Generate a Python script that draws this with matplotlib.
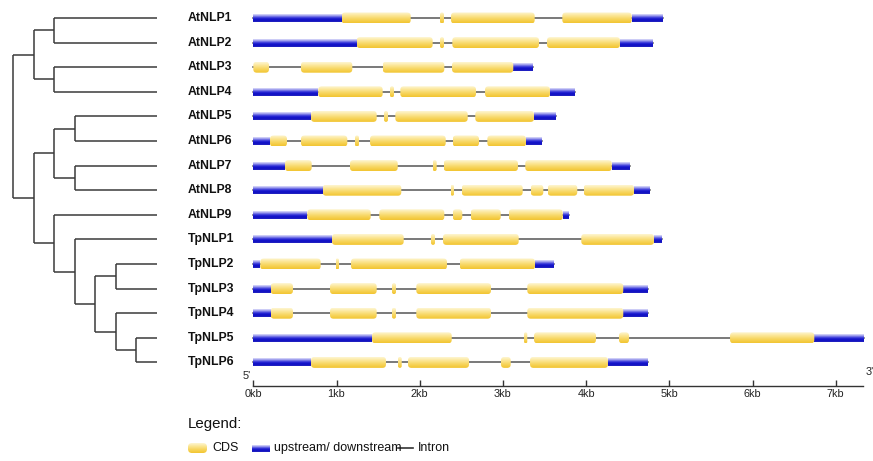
import numpy as np
import matplotlib
matplotlib.use("Agg")
import matplotlib.pyplot as plt
from matplotlib.patches import FancyBboxPatch
from matplotlib.colors import LinearSegmentedColormap
from matplotlib.lines import Line2D

# ---------------- data ----------------
gene_names = ["AtNLP1", "AtNLP2", "AtNLP3", "AtNLP4", "AtNLP5", "AtNLP6",
              "AtNLP7", "AtNLP8", "AtNLP9", "TpNLP1", "TpNLP2", "TpNLP3",
              "TpNLP4", "TpNLP5", "TpNLP6"]

# cladogram topology
tree = (((("AtNLP1", "AtNLP2"), ("AtNLP3", "AtNLP4")),
         ((("AtNLP5", "AtNLP6"), ("AtNLP7", "AtNLP8")),
          ("AtNLP9", ("TpNLP1", (("TpNLP2", "TpNLP3"),
                                 ("TpNLP4", ("TpNLP5", "TpNLP6"))))))))

# upstream / downstream regions (kb)
utr_kb = [
    [(0, 1.062), (4.548, 4.921)],
    [(0, 1.243), (4.407, 4.808)],
    [(3.125, 3.365)],
    [(0, 0.781), (3.566, 3.867)],
    [(0, 0.694), (3.374, 3.638)],
    [(0, 0.201), (3.278, 3.466)],
    [(0, 0.381), (4.308, 4.528)],
    [(0, 0.834), (4.576, 4.768)],
    [(0, 0.649), (3.719, 3.798)],
    [(0, 0.946), (4.816, 4.916)],
    [(0, 0.084), (3.386, 3.618)],
    [(0, 0.209), (4.447, 4.748)],
    [(0, 0.209), (4.447, 4.748)],
    [(0, 1.427), (6.743, 7.344)],
    [(0, 0.694), (4.263, 4.748)],
]

# coding sequences (kb)
cds_kb = [
    [(1.062, 1.892), (2.244, 2.292), (2.376, 3.382), (3.714, 4.548)],
    [(1.243, 2.156), (2.244, 2.292), (2.392, 3.434), (3.530, 4.407)],
    [(0, 0.189), (0.573, 1.190), (1.555, 2.296), (2.388, 3.125)],
    [(0.781, 1.555), (1.643, 1.691), (1.767, 2.677), (2.785, 3.566)],
    [(0.694, 1.483), (1.571, 1.619), (1.707, 2.577), (2.668, 3.374)],
    [(0.201, 0.405), (0.573, 1.130), (1.222, 1.270), (1.403, 2.313),
     (2.397, 2.713), (2.813, 3.278)],
    [(0.381, 0.702), (1.162, 1.736), (2.156, 2.204), (2.288, 3.181),
     (3.269, 4.308)],
    [(0.834, 1.779), (2.373, 2.412), (2.505, 3.238), (3.334, 3.486),
     (3.538, 3.894), (3.971, 4.576)],
    [(0.649, 1.411), (1.514, 2.296), (2.397, 2.512), (2.613, 2.974),
     (3.070, 3.719)],
    [(0.946, 1.808), (2.136, 2.184), (2.280, 3.190), (3.942, 4.816)],
    [(0.084, 0.810), (0.990, 1.030), (1.174, 2.328), (2.481, 3.386)],
    [(0.209, 0.477), (0.922, 1.483), (1.667, 1.715), (1.959, 2.857),
     (3.293, 4.447)],
    [(0.209, 0.477), (0.922, 1.483), (1.667, 1.715), (1.959, 2.857),
     (3.293, 4.447)],
    [(1.427, 2.385), (3.254, 3.293), (3.374, 4.119), (4.395, 4.516),
     (5.730, 6.743)],
    [(0.694, 1.595), (1.739, 1.784), (1.859, 2.593), (2.977, 3.094),
     (3.326, 4.263)],
]

tick_kb = [0, 1, 2, 3, 4, 5, 6, 7]
tick_labels = [f"{t}kb" for t in tick_kb]
axis_end_kb = 7.33
legend_labels = ["CDS", "upstream/ downstream", "Intron"]

# ---------------- layout / style ----------------
W, H = 873, 461
PX_PER_KB = 83.2
ROW_PX = 24.6
ROW0_PX = 18.0
AXIS_PX = 386.0
GENE0_PX = 253.3
GAX_LEFT_PX = 200.0
DEPTH_PX = 20.5
ROOT_PX = 13.3
LEAF_DEPTH = 7.0
LABEL_PX = 188.0

CDS_H = 11.0 / ROW_PX
UTR_H = 8.0 / ROW_PX
x_per_px = 1.0 / PX_PER_KB
y_per_px = 1.0 / ROW_PX
ASPECT = y_per_px / x_per_px

cds_cmap = LinearSegmentedColormap.from_list(
    "cds", ["#fef6d2", "#fbe592", "#f7d45a", "#f2c531"])
utr_cmap = LinearSegmentedColormap.from_list(
    "utr", ["#e2e2fa", "#8a8aea", "#2a2ad6", "#0c0cc4", "#2626c0"])
grad = np.linspace(0, 1, 64).reshape(-1, 1)

fig = plt.figure(figsize=(W / 100, H / 100), dpi=100)

ylim = ((AXIS_PX - ROW0_PX) / ROW_PX, -ROW0_PX / ROW_PX)

# gene structure axes
axg = fig.add_axes([GAX_LEFT_PX / W, 1 - AXIS_PX / H,
                    (W - GAX_LEFT_PX) / W, AXIS_PX / H])
xlim = (-(GENE0_PX - GAX_LEFT_PX) / PX_PER_KB, (W - GENE0_PX) / PX_PER_KB)
axg.patch.set_alpha(0)


def gradient_box(ax, x0, x1, yc, h, cmap, rounded):
    w = x1 - x0
    if rounded:
        r = min(3.5 * x_per_px, w / 2.0)
        style = f"round,pad=0,rounding_size={r}"
    else:
        style = "square,pad=0"
    patch = FancyBboxPatch((x0, yc - h / 2), w, h, boxstyle=style,
                           mutation_aspect=ASPECT, fc="none", ec="none")
    ax.add_patch(patch)
    im = ax.imshow(grad, cmap=cmap, extent=(x0, x1, yc + h / 2, yc - h / 2),
                   aspect="auto", interpolation="bilinear", zorder=3)
    im.set_clip_path(patch)


for i, name in enumerate(gene_names):
    segs = utr_kb[i] + cds_kb[i]
    start = min(s for s, e in segs)
    end = max(e for s, e in segs)
    axg.add_line(Line2D([start, end], [i, i], color="#555555", lw=1.1,
                        zorder=1))
    for s, e in utr_kb[i]:
        gradient_box(axg, s, e, i, UTR_H, utr_cmap, False)
    for s, e in cds_kb[i]:
        gradient_box(axg, s, e, i, CDS_H, cds_cmap, True)

axg.set_xlim(*xlim)
axg.set_ylim(*ylim)
for side in ["top", "left", "right"]:
    axg.spines[side].set_visible(False)
axg.spines["bottom"].set_bounds(0, axis_end_kb)
axg.spines["bottom"].set_color("#333333")
axg.spines["bottom"].set_linewidth(1.0)
axg.set_yticks([])
axg.set_xticks(tick_kb)
axg.set_xticklabels(tick_labels, fontfamily="Liberation Sans", fontsize=7.8,
                    color="#222222")
axg.tick_params(axis="x", direction="in", length=4, width=1.0,
                color="#333333", pad=2.5)
axg.text(-10.5 * x_per_px, ylim[0] - 10 * y_per_px, "5'",
         ha="left", va="center", fontsize=7.8, fontfamily="Liberation Sans",
         color="#222222", clip_on=False)
axg.text(axis_end_kb + 2.5 * x_per_px, ylim[0] - 14 * y_per_px, "3'",
         ha="left", va="center", fontsize=7.8, fontfamily="Liberation Sans",
         color="#222222", clip_on=False)

# tree axes
axt = fig.add_axes([0, 1 - AXIS_PX / H, GAX_LEFT_PX / W, AXIS_PX / H])
axt.set_xlim(-ROOT_PX / DEPTH_PX, (GAX_LEFT_PX - ROOT_PX) / DEPTH_PX)
axt.set_ylim(*ylim)
axt.axis("off")
axt.patch.set_alpha(0)
row_of = {n: i for i, n in enumerate(gene_names)}
tree_kw = dict(color="#3a3a3a", lw=1.1, solid_capstyle="butt")


def draw_clade(node, depth):
    if isinstance(node, str):
        return row_of[node]
    ys = []
    for child in node:
        cy = draw_clade(child, depth + 1)
        cx = LEAF_DEPTH if isinstance(child, str) else depth + 1
        axt.plot([depth, cx], [cy, cy], **tree_kw)
        ys.append(cy)
    axt.plot([depth, depth], [min(ys), max(ys)], **tree_kw)
    return (min(ys) + max(ys)) / 2


draw_clade(tree, 0)
label_x = (LABEL_PX - ROOT_PX) / DEPTH_PX
for i, name in enumerate(gene_names):
    axt.text(label_x, i, name, ha="left", va="center", fontsize=8.8,
             fontweight="bold", fontfamily="Liberation Sans", color="#111111",
             clip_on=False)

# legend (pixel coordinates)
axl = fig.add_axes([0, 0, 1, 1])
axl.set_xlim(0, W)
axl.set_ylim(H, 0)
axl.axis("off")
axl.patch.set_alpha(0)
axl.text(188, 424, "Legend:", ha="left", va="center", fontsize=10.8,
         fontfamily="Liberation Sans", color="#111111")
p = FancyBboxPatch((188, 443), 19, 10, boxstyle="round,pad=0,rounding_size=4",
                   fc="none", ec="none")
axl.add_patch(p)
im = axl.imshow(grad, cmap=cds_cmap, extent=(188, 207, 453, 443),
                aspect="auto", interpolation="bilinear")
im.set_clip_path(p)
axl.imshow(grad, cmap=utr_cmap, extent=(252, 270, 452, 445), aspect="auto",
           interpolation="bilinear")
axl.add_line(Line2D([398, 413], [448, 448], color="#333333", lw=1.2))
axl.text(212, 448, legend_labels[0], ha="left", va="center", fontsize=9,
         fontfamily="Liberation Sans", color="#111111")
axl.text(274, 448, legend_labels[1], ha="left", va="center", fontsize=9,
         fontfamily="Liberation Sans", color="#111111")
axl.text(418, 448, legend_labels[2], ha="left", va="center", fontsize=9,
         fontfamily="Liberation Sans", color="#111111")
axl.set_xlim(0, W)
axl.set_ylim(H, 0)

fig.savefig("out.png", dpi=100)
